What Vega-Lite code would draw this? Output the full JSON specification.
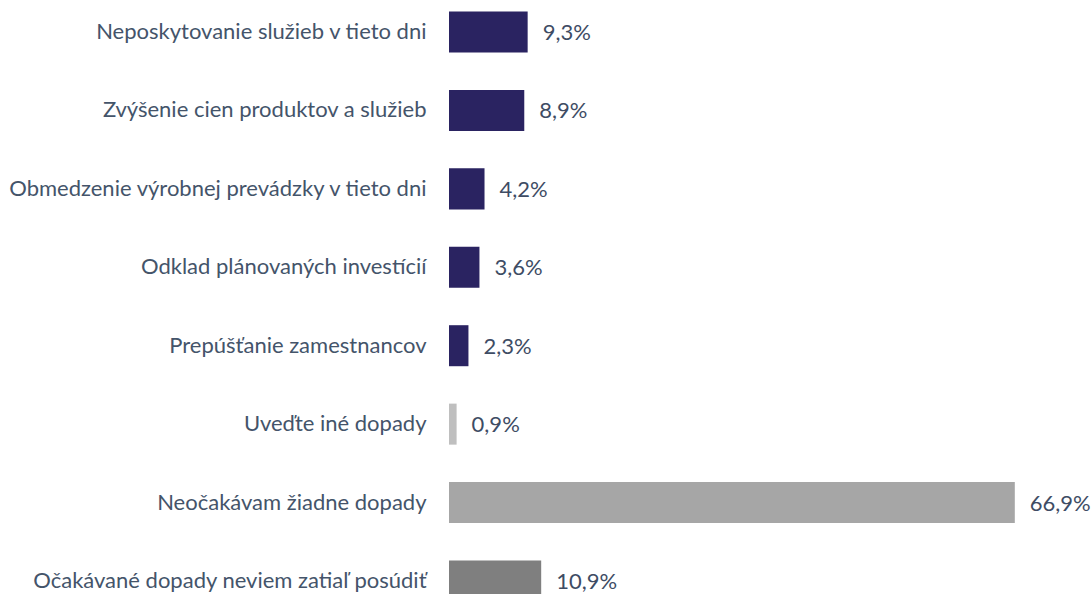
{
  "$schema": "https://vega.github.io/schema/vega-lite/v6.json",
  "width": 647,
  "height": 613,
  "autosize": {"type": "none"},
  "padding": {"left": 449, "top": 0, "right": 0, "bottom": 0},
  "background": "white",
  "config": {"view": {"stroke": null}},
  "data": {"values": [
    {"item": "Neposkytovanie služieb v tieto dni", "value": 9.3, "label": "9,3%", "group": "a"},
    {"item": "Zvýšenie cien produktov a služieb", "value": 8.9, "label": "8,9%", "group": "a"},
    {"item": "Obmedzenie výrobnej prevádzky v tieto dni", "value": 4.2, "label": "4,2%", "group": "a"},
    {"item": "Odklad plánovaných investícií", "value": 3.6, "label": "3,6%", "group": "a"},
    {"item": "Prepúšťanie zamestnancov", "value": 2.3, "label": "2,3%", "group": "a"},
    {"item": "Uveďte iné dopady", "value": 0.9, "label": "0,9%", "group": "b"},
    {"item": "Neočakávam žiadne dopady", "value": 66.9, "label": "66,9%", "group": "c"},
    {"item": "Očakávané dopady neviem zatiaľ posúdiť", "value": 10.9, "label": "10,9%", "group": "d"}
  ]},
  "encoding": {
    "y": {"field": "item", "type": "nominal", "sort": null,
      "scale": {"paddingInner": 0.477, "paddingOuter": 0.147},
      "axis": {"title": null, "domain": false, "ticks": false, "labelPadding": 23, "labelFont": "Lato", "labelFontSize": 22, "labelColor": "#44546a", "labelLimit": 0}},
    "x": {"field": "value", "type": "quantitative", "scale": {"domain": [0, 76.5]}, "axis": null}
  },
  "layer": [
    {"mark": {"type": "bar"},
     "encoding": {"color": {"field": "group", "type": "nominal", "legend": null,
       "scale": {"domain": ["a", "b", "c", "d"], "range": ["#2a2361", "#bfbfbf", "#a6a6a6", "#7f7f7f"]}}}},
    {"mark": {"type": "text", "align": "left", "baseline": "middle", "dx": 15, "dy": 1, "font": "Lato", "fontSize": 22, "color": "#3e4c64"},
     "encoding": {"text": {"field": "label"}}}
  ]
}
